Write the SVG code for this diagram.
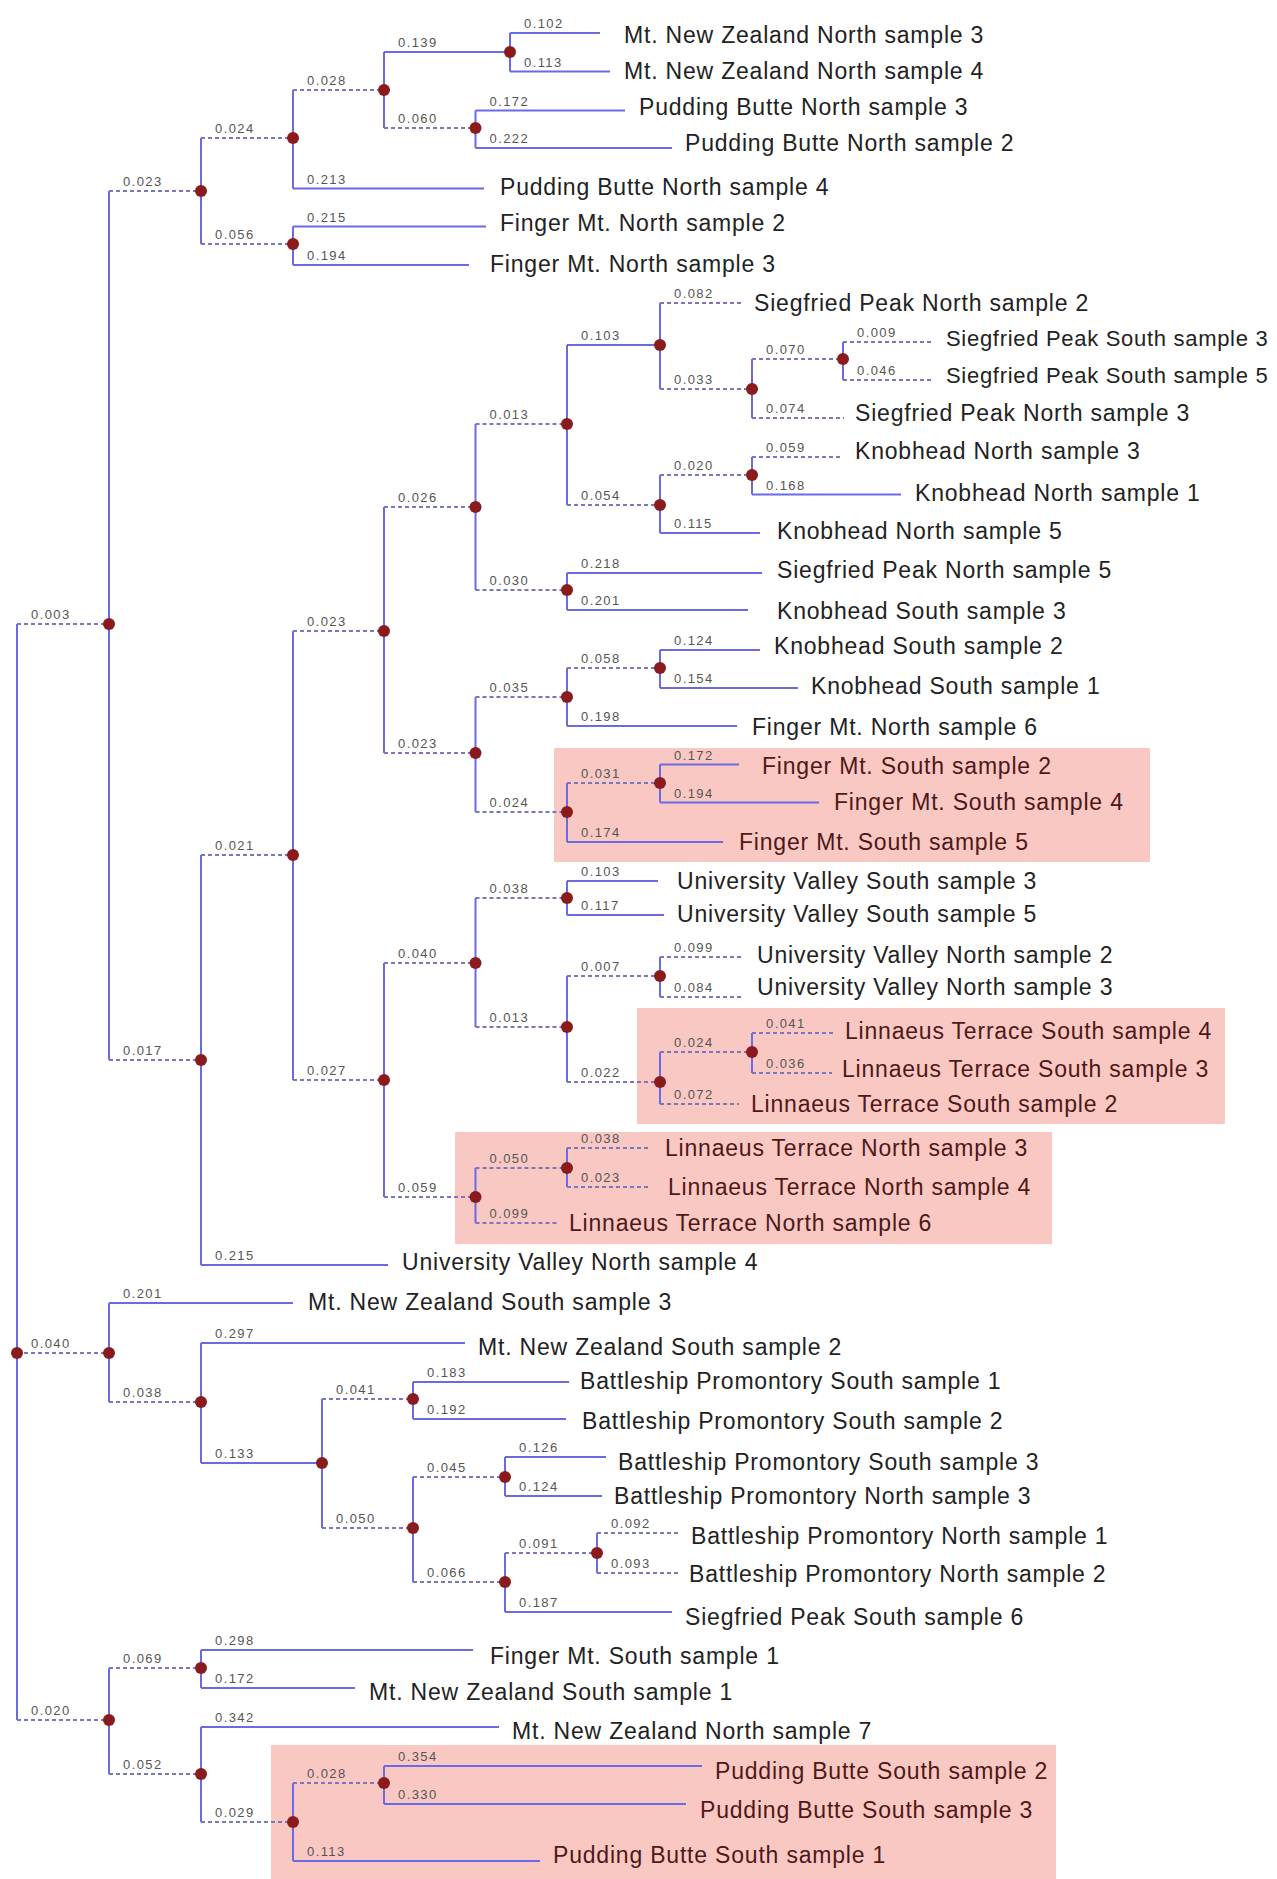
<svg xmlns="http://www.w3.org/2000/svg" width="1277" height="1879" viewBox="0 0 1277 1879">
<style>
.s{stroke:#6a6ae6;stroke-width:2;fill:none}
.d{stroke:#7777c0;stroke-width:2;stroke-dasharray:4 3;fill:none}
.n{fill:#8b1a1d}
.bl{font-family:"Liberation Sans",Arial,sans-serif;font-size:13px;letter-spacing:1.4px;fill:#555}
.t{font-family:"Liberation Sans",Arial,sans-serif;font-size:23px;letter-spacing:0.8px;fill:#222}
.tn{font-size:22px;letter-spacing:0.7px}
.tp{fill:#4e1818}
.box{fill:#f9c8c3}
</style>
<rect width="1277" height="1879" fill="#ffffff"/>
<g id="highlights">
<rect class="box" x="554" y="748" width="596" height="114"/>
<rect class="box" x="637" y="1008" width="588" height="116"/>
<rect class="box" x="455" y="1132" width="597" height="112"/>
<rect class="box" x="271" y="1745" width="785" height="134"/>
</g>
<g id="connectors">
<path class="s" d="M17 624V1720 M109 191V1060 M201 138V244 M293 90V188.5 M384 52V128 M510 33V71.5 M475.5 110.5V148 M293 226.5V265 M201 855V1265 M293 631V1080 M384 507V753 M475.5 424V590 M567 345V505 M660 303V389 M752 359V418 M843 342V380 M660 475V533 M752 457V494.5 M567 573V610 M475.5 697V812 M567 668V726 M660 650V688 M567 783V842 M660 764.5V802.5 M384 963V1197 M475.5 898V1027 M567 881V915 M567 976V1082 M660 957V997 M660 1052V1104 M752 1033V1073 M475.5 1168V1223 M567 1148V1187 M109 1303V1402 M201 1343V1463 M322 1399V1528 M413 1382V1419 M413 1477V1582 M505 1457V1496 M505 1553V1612 M597 1533V1573 M109 1668V1774 M201 1650V1688 M201 1727V1822 M293 1783V1861 M384 1766V1804"/>
<path class="s" d="M293 188.5H484 M384 52H510 M510 33H600 M510 71.5H610 M475.5 110.5H625 M475.5 148H672 M293 226.5H486 M293 265H469 M201 1265H388 M567 345H660 M660 533H760 M752 494.5H901 M567 573H762 M567 610H748 M567 726H737 M660 650H760 M660 688H798 M567 842H723 M660 764.5H739 M660 802.5H819 M567 881H658 M567 915H664 M109 1303H293 M201 1343H465 M201 1463H322 M413 1382H569 M413 1419H566 M505 1457H606 M505 1496H602 M505 1612H672 M201 1650H473 M201 1688H355 M201 1727H499 M293 1861H540 M384 1766H702 M384 1804H686"/>
<path class="d" d="M17 624H109 M17 1353H109 M17 1720H109 M109 191H201 M109 1060H201 M201 138H293 M201 244H293 M293 90H384 M384 128H475.5 M201 855H293 M293 631H384 M293 1080H384 M384 507H475.5 M384 753H475.5 M475.5 424H567 M475.5 590H567 M567 505H660 M660 303H741 M660 389H752 M752 359H843 M752 418H844 M843 342H932 M843 380H932 M660 475H752 M752 457H842 M475.5 697H567 M475.5 812H567 M567 668H660 M567 783H660 M384 963H475.5 M384 1197H475.5 M475.5 898H567 M475.5 1027H567 M567 976H660 M567 1082H660 M660 957H741 M660 997H741 M660 1052H752 M660 1104H739 M752 1033H834 M752 1073H832 M475.5 1168H567 M475.5 1223H559 M567 1148H649 M567 1187H651 M109 1402H201 M322 1399H413 M322 1528H413 M413 1477H505 M413 1582H505 M505 1553H597 M597 1533H679 M597 1573H679 M109 1668H201 M109 1774H201 M201 1822H293 M293 1783H384"/>
</g>
<g id="branch-labels" class="bl">
<text x="31" y="619">0.003</text>
<text x="31" y="1348">0.040</text>
<text x="31" y="1715">0.020</text>
<text x="123" y="186">0.023</text>
<text x="123" y="1055">0.017</text>
<text x="215" y="133">0.024</text>
<text x="215" y="239">0.056</text>
<text x="307" y="85">0.028</text>
<text x="307" y="183.5">0.213</text>
<text x="398" y="47">0.139</text>
<text x="398" y="123">0.060</text>
<text x="524" y="28">0.102</text>
<text x="524" y="66.5">0.113</text>
<text x="489.5" y="105.5">0.172</text>
<text x="489.5" y="143">0.222</text>
<text x="307" y="221.5">0.215</text>
<text x="307" y="260">0.194</text>
<text x="215" y="850">0.021</text>
<text x="215" y="1260">0.215</text>
<text x="307" y="626">0.023</text>
<text x="307" y="1075">0.027</text>
<text x="398" y="502">0.026</text>
<text x="398" y="748">0.023</text>
<text x="489.5" y="419">0.013</text>
<text x="489.5" y="585">0.030</text>
<text x="581" y="340">0.103</text>
<text x="581" y="500">0.054</text>
<text x="674" y="298">0.082</text>
<text x="674" y="384">0.033</text>
<text x="766" y="354">0.070</text>
<text x="766" y="413">0.074</text>
<text x="857" y="337">0.009</text>
<text x="857" y="375">0.046</text>
<text x="674" y="470">0.020</text>
<text x="674" y="528">0.115</text>
<text x="766" y="452">0.059</text>
<text x="766" y="489.5">0.168</text>
<text x="581" y="568">0.218</text>
<text x="581" y="605">0.201</text>
<text x="489.5" y="692">0.035</text>
<text x="489.5" y="807">0.024</text>
<text x="581" y="663">0.058</text>
<text x="581" y="721">0.198</text>
<text x="674" y="645">0.124</text>
<text x="674" y="683">0.154</text>
<text x="581" y="778">0.031</text>
<text x="581" y="837">0.174</text>
<text x="674" y="759.5">0.172</text>
<text x="674" y="797.5">0.194</text>
<text x="398" y="958">0.040</text>
<text x="398" y="1192">0.059</text>
<text x="489.5" y="893">0.038</text>
<text x="489.5" y="1022">0.013</text>
<text x="581" y="876">0.103</text>
<text x="581" y="910">0.117</text>
<text x="581" y="971">0.007</text>
<text x="581" y="1077">0.022</text>
<text x="674" y="952">0.099</text>
<text x="674" y="992">0.084</text>
<text x="674" y="1047">0.024</text>
<text x="674" y="1099">0.072</text>
<text x="766" y="1028">0.041</text>
<text x="766" y="1068">0.036</text>
<text x="489.5" y="1163">0.050</text>
<text x="489.5" y="1218">0.099</text>
<text x="581" y="1143">0.038</text>
<text x="581" y="1182">0.023</text>
<text x="123" y="1298">0.201</text>
<text x="123" y="1397">0.038</text>
<text x="215" y="1338">0.297</text>
<text x="215" y="1458">0.133</text>
<text x="336" y="1394">0.041</text>
<text x="336" y="1523">0.050</text>
<text x="427" y="1377">0.183</text>
<text x="427" y="1414">0.192</text>
<text x="427" y="1472">0.045</text>
<text x="427" y="1577">0.066</text>
<text x="519" y="1452">0.126</text>
<text x="519" y="1491">0.124</text>
<text x="519" y="1548">0.091</text>
<text x="519" y="1607">0.187</text>
<text x="611" y="1528">0.092</text>
<text x="611" y="1568">0.093</text>
<text x="123" y="1663">0.069</text>
<text x="123" y="1769">0.052</text>
<text x="215" y="1645">0.298</text>
<text x="215" y="1683">0.172</text>
<text x="215" y="1722">0.342</text>
<text x="215" y="1817">0.029</text>
<text x="307" y="1778">0.028</text>
<text x="307" y="1856">0.113</text>
<text x="398" y="1761">0.354</text>
<text x="398" y="1799">0.330</text>
</g>
<g id="internal-nodes">
<g id="n-root"><circle class="n" cx="17" cy="1353" r="6"/></g>
<g id="n-a"><circle class="n" cx="109" cy="624" r="6"/></g>
<g id="n-b"><circle class="n" cx="201" cy="191" r="6"/></g>
<g id="n-c"><circle class="n" cx="293" cy="138" r="6"/></g>
<g id="n-d"><circle class="n" cx="293" cy="244" r="6"/></g>
<g id="n-e"><circle class="n" cx="384" cy="90" r="6"/></g>
<g id="n-f"><circle class="n" cx="510" cy="52" r="6"/></g>
<g id="n-g"><circle class="n" cx="475.5" cy="128" r="6"/></g>
<g id="n-h"><circle class="n" cx="201" cy="1060" r="6"/></g>
<g id="n-i"><circle class="n" cx="293" cy="855" r="6"/></g>
<g id="n-j"><circle class="n" cx="384" cy="631" r="6"/></g>
<g id="n-k"><circle class="n" cx="384" cy="1080" r="6"/></g>
<g id="n-l"><circle class="n" cx="475.5" cy="507" r="6"/></g>
<g id="n-m"><circle class="n" cx="475.5" cy="753" r="6"/></g>
<g id="n-n"><circle class="n" cx="567" cy="424" r="6"/></g>
<g id="n-o"><circle class="n" cx="567" cy="590" r="6"/></g>
<g id="n-p"><circle class="n" cx="660" cy="345" r="6"/></g>
<g id="n-q"><circle class="n" cx="660" cy="505" r="6"/></g>
<g id="n-r"><circle class="n" cx="752" cy="389" r="6"/></g>
<g id="n-s"><circle class="n" cx="843" cy="359" r="6"/></g>
<g id="n-t"><circle class="n" cx="752" cy="475" r="6"/></g>
<g id="n-u"><circle class="n" cx="567" cy="697" r="6"/></g>
<g id="n-v"><circle class="n" cx="567" cy="812" r="6"/></g>
<g id="n-w"><circle class="n" cx="660" cy="668" r="6"/></g>
<g id="n-x"><circle class="n" cx="660" cy="783" r="6"/></g>
<g id="n-y"><circle class="n" cx="475.5" cy="963" r="6"/></g>
<g id="n-z"><circle class="n" cx="475.5" cy="1197" r="6"/></g>
<g id="n-aa"><circle class="n" cx="567" cy="898" r="6"/></g>
<g id="n-ab"><circle class="n" cx="567" cy="1027" r="6"/></g>
<g id="n-ac"><circle class="n" cx="660" cy="976" r="6"/></g>
<g id="n-ad"><circle class="n" cx="660" cy="1082" r="6"/></g>
<g id="n-ae"><circle class="n" cx="752" cy="1052" r="6"/></g>
<g id="n-af"><circle class="n" cx="567" cy="1168" r="6"/></g>
<g id="n-ba"><circle class="n" cx="109" cy="1353" r="6"/></g>
<g id="n-bb"><circle class="n" cx="201" cy="1402" r="6"/></g>
<g id="n-bc"><circle class="n" cx="322" cy="1463" r="6"/></g>
<g id="n-bd"><circle class="n" cx="413" cy="1399" r="6"/></g>
<g id="n-be"><circle class="n" cx="413" cy="1528" r="6"/></g>
<g id="n-bf"><circle class="n" cx="505" cy="1477" r="6"/></g>
<g id="n-bg"><circle class="n" cx="505" cy="1582" r="6"/></g>
<g id="n-bh"><circle class="n" cx="597" cy="1553" r="6"/></g>
<g id="n-ca"><circle class="n" cx="109" cy="1720" r="6"/></g>
<g id="n-cb"><circle class="n" cx="201" cy="1668" r="6"/></g>
<g id="n-cc"><circle class="n" cx="201" cy="1774" r="6"/></g>
<g id="n-cd"><circle class="n" cx="293" cy="1822" r="6"/></g>
<g id="n-ce"><circle class="n" cx="384" cy="1783" r="6"/></g>
</g>
<g id="leaves" class="t">
<g id="leaf-01"><text x="624" y="43">Mt. New Zealand North sample 3</text></g>
<g id="leaf-02"><text x="624" y="78.5">Mt. New Zealand North sample 4</text></g>
<g id="leaf-03"><text x="639" y="115">Pudding Butte North sample 3</text></g>
<g id="leaf-04"><text x="685" y="151">Pudding Butte North sample 2</text></g>
<g id="leaf-05"><text x="500" y="195">Pudding Butte North sample 4</text></g>
<g id="leaf-06"><text x="500" y="230.5">Finger Mt. North sample 2</text></g>
<g id="leaf-07"><text x="490" y="272">Finger Mt. North sample 3</text></g>
<g id="leaf-08"><text x="754" y="310.5">Siegfried Peak North sample 2</text></g>
<g id="leaf-09"><text class="tn" x="946" y="346">Siegfried Peak South sample 3</text></g>
<g id="leaf-10"><text class="tn" x="946" y="382.5">Siegfried Peak South sample 5</text></g>
<g id="leaf-11"><text x="855" y="420.5">Siegfried Peak North sample 3</text></g>
<g id="leaf-12"><text x="855" y="459">Knobhead North sample 3</text></g>
<g id="leaf-13"><text x="915" y="501">Knobhead North sample 1</text></g>
<g id="leaf-14"><text x="777" y="539">Knobhead North sample 5</text></g>
<g id="leaf-15"><text x="777" y="577.5">Siegfried Peak North sample 5</text></g>
<g id="leaf-16"><text x="777" y="619">Knobhead South sample 3</text></g>
<g id="leaf-17"><text x="774" y="654">Knobhead South sample 2</text></g>
<g id="leaf-18"><text x="811" y="694">Knobhead South sample 1</text></g>
<g id="leaf-19"><text x="752" y="734.5">Finger Mt. North sample 6</text></g>
<g id="leaf-20"><text class="tp" x="762" y="774">Finger Mt. South sample 2</text></g>
<g id="leaf-21"><text class="tp" x="834" y="809.5">Finger Mt. South sample 4</text></g>
<g id="leaf-22"><text class="tp" x="739" y="849.5">Finger Mt. South sample 5</text></g>
<g id="leaf-23"><text x="677" y="888.5">University Valley South sample 3</text></g>
<g id="leaf-24"><text x="677" y="922">University Valley South sample 5</text></g>
<g id="leaf-25"><text x="757" y="962.5">University Valley North sample 2</text></g>
<g id="leaf-26"><text x="757" y="995">University Valley North sample 3</text></g>
<g id="leaf-27"><text class="tp" x="845" y="1039">Linnaeus Terrace South sample 4</text></g>
<g id="leaf-28"><text class="tp" x="842" y="1077">Linnaeus Terrace South sample 3</text></g>
<g id="leaf-29"><text class="tp" x="751" y="1112">Linnaeus Terrace South sample 2</text></g>
<g id="leaf-30"><text class="tp" x="665" y="1156">Linnaeus Terrace North sample 3</text></g>
<g id="leaf-31"><text class="tp" x="668" y="1194.5">Linnaeus Terrace North sample 4</text></g>
<g id="leaf-32"><text class="tp" x="569" y="1230.5">Linnaeus Terrace North sample 6</text></g>
<g id="leaf-33"><text x="402" y="1270">University Valley North sample 4</text></g>
<g id="leaf-34"><text x="308" y="1310">Mt. New Zealand South sample 3</text></g>
<g id="leaf-35"><text x="478" y="1355">Mt. New Zealand South sample 2</text></g>
<g id="leaf-36"><text x="580" y="1389">Battleship Promontory South sample 1</text></g>
<g id="leaf-37"><text x="582" y="1429">Battleship Promontory South sample 2</text></g>
<g id="leaf-38"><text x="618" y="1469.5">Battleship Promontory South sample 3</text></g>
<g id="leaf-39"><text x="614" y="1503.5">Battleship Promontory North sample 3</text></g>
<g id="leaf-40"><text x="691" y="1543.5">Battleship Promontory North sample 1</text></g>
<g id="leaf-41"><text x="689" y="1581.5">Battleship Promontory North sample 2</text></g>
<g id="leaf-42"><text x="685" y="1624.5">Siegfried Peak South sample 6</text></g>
<g id="leaf-43"><text x="490" y="1663.5">Finger Mt. South sample 1</text></g>
<g id="leaf-44"><text x="369" y="1700">Mt. New Zealand South sample 1</text></g>
<g id="leaf-45"><text x="512" y="1738.5">Mt. New Zealand North sample 7</text></g>
<g id="leaf-46"><text class="tp" x="715" y="1778.5">Pudding Butte South sample 2</text></g>
<g id="leaf-47"><text class="tp" x="700" y="1818">Pudding Butte South sample 3</text></g>
<g id="leaf-48"><text class="tp" x="553" y="1863">Pudding Butte South sample 1</text></g>
</g>
</svg>
